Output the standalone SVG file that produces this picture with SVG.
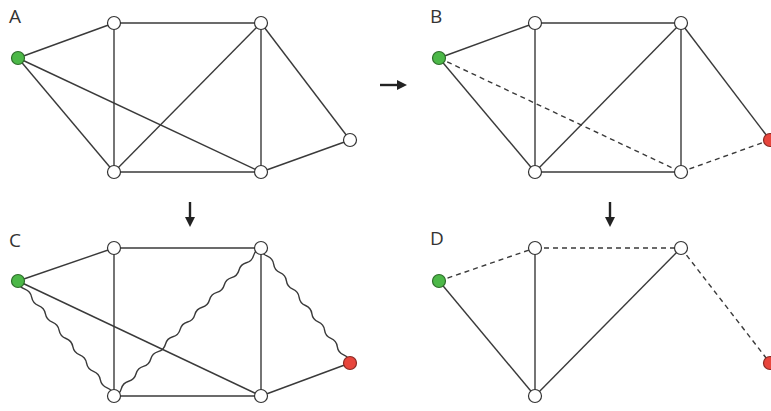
<svg xmlns="http://www.w3.org/2000/svg" width="771" height="411" viewBox="0 0 771 411">
<style>
.e{stroke:#3a3a3a;stroke-width:1.4;fill:none}
.d{stroke:#3a3a3a;stroke-width:1.4;fill:none;stroke-dasharray:5 4}
.n{fill:#fff;stroke:#333;stroke-width:1.2}
.g{fill:#4cb848;stroke:#2e6e2b;stroke-width:1.2}
.r{fill:#e8453c;stroke:#8a2a24;stroke-width:1.2}
.lbl{font-family:"Open Sans","Liberation Sans",sans-serif;font-size:19px;fill:#333}
.ar{fill:#222}
</style>
<rect width="771" height="411" fill="#fff"/>
<g id="labels">
<text class="lbl" x="9" y="23">A</text>
<text class="lbl" x="430" y="23">B</text>
<text class="lbl" x="9" y="247">C</text>
<text class="lbl" x="430" y="245">D</text>
</g>
<g id="arrows">
<line x1="380" y1="85" x2="399" y2="85" stroke="#222" stroke-width="2.4"/>
<polygon class="ar" points="397,80 407,85 397,90"/>
<line x1="190" y1="202" x2="190" y2="219" stroke="#222" stroke-width="2.4"/>
<polygon class="ar" points="185,217 195,217 190,227"/>
<line x1="610" y1="202" x2="610" y2="219" stroke="#222" stroke-width="2.4"/>
<polygon class="ar" points="605,217 615,217 610,227"/>
</g>
<g id="connectors">
<!-- A -->
<line class="e" x1="18" y1="58" x2="114" y2="23"/>
<line class="e" x1="18" y1="58" x2="114" y2="172"/>
<line class="e" x1="18" y1="58" x2="261" y2="172"/>
<line class="e" x1="114" y1="23" x2="261" y2="23"/>
<line class="e" x1="114" y1="23" x2="114" y2="172"/>
<line class="e" x1="114" y1="172" x2="261" y2="172"/>
<line class="e" x1="114" y1="172" x2="261" y2="23"/>
<line class="e" x1="261" y1="23" x2="261" y2="172"/>
<line class="e" x1="261" y1="23" x2="350" y2="140"/>
<line class="e" x1="261" y1="172" x2="350" y2="140"/>
<!-- B -->
<line class="e" x1="439" y1="58" x2="535" y2="23"/>
<line class="e" x1="439" y1="58" x2="535" y2="172"/>
<line class="d" x1="439" y1="58" x2="681" y2="172"/>
<line class="e" x1="535" y1="23" x2="681" y2="23"/>
<line class="e" x1="535" y1="23" x2="535" y2="172"/>
<line class="e" x1="535" y1="172" x2="681" y2="172"/>
<line class="e" x1="535" y1="172" x2="681" y2="23"/>
<line class="e" x1="681" y1="23" x2="681" y2="172"/>
<line class="e" x1="681" y1="23" x2="770" y2="140"/>
<line class="d" x1="681" y1="172" x2="770" y2="140"/>
<!-- C -->
<line class="e" x1="18" y1="281" x2="114" y2="248"/>
<line class="e" x1="18" y1="281" x2="261" y2="396"/>
<line class="e" x1="114" y1="248" x2="261" y2="248"/>
<line class="e" x1="114" y1="248" x2="114" y2="396"/>
<line class="e" x1="114" y1="396" x2="261" y2="396"/>
<line class="e" x1="261" y1="248" x2="261" y2="396"/>
<line class="e" x1="261" y1="396" x2="350" y2="363"/>
<path class="e" d="M18 281 q1.125 6.030 6.857 8.214 t6.857 8.214 t6.857 8.214 t6.857 8.214 t6.857 8.214 t6.857 8.214 t6.857 8.214 t6.857 8.214 t6.857 8.214 t6.857 8.214 t6.857 8.214 t6.857 8.214 t6.857 8.214 t6.857 8.214"/>
<path class="e" d="M114 396 q5.804 -1.586 7.35 -7.4 t7.35 -7.4 t7.35 -7.4 t7.35 -7.4 t7.35 -7.4 t7.35 -7.4 t7.35 -7.4 t7.35 -7.4 t7.35 -7.4 t7.35 -7.4 t7.35 -7.4 t7.35 -7.4 t7.35 -7.4 t7.35 -7.4 t7.35 -7.4 t7.35 -7.4 t7.35 -7.4 t7.35 -7.4 t7.35 -7.4 t7.35 -7.4"/>
<path class="e" d="M261 248 q0.806 5.943 6.357 8.214 t6.357 8.214 t6.357 8.214 t6.357 8.214 t6.357 8.214 t6.357 8.214 t6.357 8.214 t6.357 8.214 t6.357 8.214 t6.357 8.214 t6.357 8.214 t6.357 8.214 t6.357 8.214 t6.357 8.214"/>
<!-- D -->
<line class="d" x1="439" y1="281" x2="535" y2="248"/>
<line class="d" x1="535" y1="248" x2="681" y2="248"/>
<line class="d" x1="681" y1="248" x2="770" y2="363"/>
<line class="e" x1="439" y1="281" x2="535" y2="396"/>
<line class="e" x1="535" y1="248" x2="535" y2="396"/>
<line class="e" x1="535" y1="396" x2="681" y2="248"/>
</g>
<g id="nodesA">
<circle id="A-s" class="g" cx="18" cy="58" r="6.5"/>
<circle id="A-tl" class="n" cx="114" cy="23" r="6.5"/>
<circle id="A-tr" class="n" cx="261" cy="23" r="6.5"/>
<circle id="A-bl" class="n" cx="114" cy="172" r="6.5"/>
<circle id="A-br" class="n" cx="261" cy="172" r="6.5"/>
<circle id="A-t" class="n" cx="350" cy="140" r="6.5"/>
</g>
<g id="nodesB">
<circle id="B-s" class="g" cx="439" cy="58" r="6.5"/>
<circle id="B-tl" class="n" cx="535" cy="23" r="6.5"/>
<circle id="B-tr" class="n" cx="681" cy="23" r="6.5"/>
<circle id="B-bl" class="n" cx="535" cy="172" r="6.5"/>
<circle id="B-br" class="n" cx="681" cy="172" r="6.5"/>
<circle id="B-t" class="r" cx="770" cy="140" r="6.5"/>
</g>
<g id="nodesC">
<circle id="C-s" class="g" cx="18" cy="281" r="6.5"/>
<circle id="C-tl" class="n" cx="114" cy="248" r="6.5"/>
<circle id="C-tr" class="n" cx="261" cy="248" r="6.5"/>
<circle id="C-bl" class="n" cx="114" cy="396" r="6.5"/>
<circle id="C-br" class="n" cx="261" cy="396" r="6.5"/>
<circle id="C-t" class="r" cx="350" cy="363" r="6.5"/>
</g>
<g id="nodesD">
<circle id="D-s" class="g" cx="439" cy="281" r="6.5"/>
<circle id="D-tl" class="n" cx="535" cy="248" r="6.5"/>
<circle id="D-tr" class="n" cx="681" cy="248" r="6.5"/>
<circle id="D-bl" class="n" cx="535" cy="396" r="6.5"/>
<circle id="D-t" class="r" cx="770" cy="363" r="6.5"/>
</g>
</svg>
